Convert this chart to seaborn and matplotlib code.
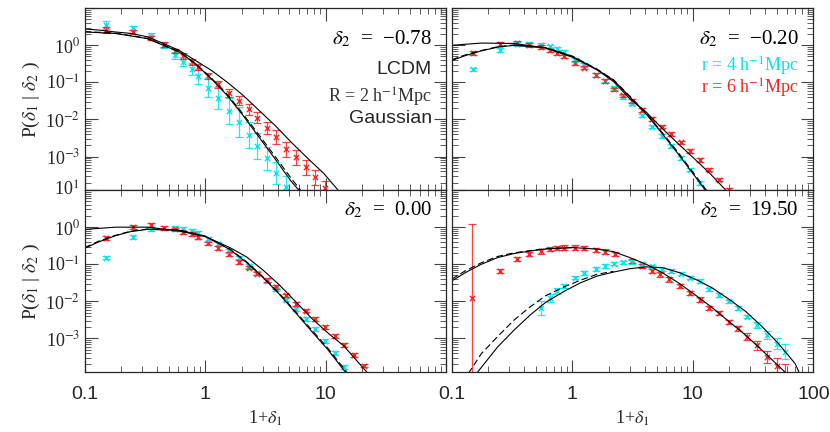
import numpy as np
import pandas as pd
import matplotlib
matplotlib.use("Agg")
import matplotlib.pyplot as plt
import seaborn as sns
from matplotlib.ticker import LogLocator, NullFormatter, FixedLocator

sns.set_style("ticks")
plt.rcParams['font.family'] = ['Liberation Serif', 'DejaVu Sans']
plt.rcParams['mathtext.fontset'] = 'stix'

CYAN = "#00e5ee"
RED = "#ff2020"

panel_labels = ["-0.78", "-0.20", "0.00", "19.50"]

# ---- panel 1: delta2 = -0.78 ----
p1_cx = [0.151,0.25,0.357,0.458,0.565,0.66,0.77,0.87,1.06,1.28,1.58,1.9,2.3,2.7,3.25,3.9,4.7]
p1_cy = [0.545,0.47,0.25,0,-0.27,-0.44,-0.64,-0.84,-1.14,-1.43,-1.77,-2.07,-2.41,-2.71,-3.05,-3.44,-3.82]
p1_ce = [0.1,0.05,0.08,0.08,0.1,0.12,0.15,0.2,0.25,0.3,0.35,0.4,0.35,0.35,0.3,0.3,0.3]
p1_rx = [0.151,0.25,0.357,0.458,0.565,0.66,0.77,0.87,1.06,1.28,1.58,1.9,2.3,2.7,3.25,3.9,4.7,5.7,6.8,8.2,9.9]
p1_ry = [0.41,0.36,0.2,0.02,-0.16,-0.29,-0.45,-0.59,-0.84,-1.05,-1.29,-1.5,-1.73,-1.95,-2.23,-2.47,-2.8,-3.02,-3.29,-3.56,-3.86]
p1_re = [0.07,0.05,0.05,0.06,0.06,0.07,0.07,0.08,0.08,0.09,0.1,0.12,0.14,0.15,0.17,0.18,0.2,0.2,0.2,0.2,0.2]
p1_c1x = [0.1,0.132,0.179,0.243,0.33,0.45,0.61,0.83,1.13,1.53,2.08,2.83,3.85,5.2,7.1,9.6,12.7]
p1_c1y = [0.44,0.41,0.36,0.32,0.23,0.05,-0.14,-0.41,-0.68,-1.0,-1.36,-1.77,-2.18,-2.62,-3.05,-3.45,-3.91]
p1_c2x = [0.1,0.179,0.33,0.45,0.61,0.83,1.13,1.53,2.08,2.83,3.85,5.2,6.0]
p1_c2y = [0.36,0.32,0.18,0,-0.18,-0.5,-0.91,-1.36,-1.91,-2.5,-3.09,-3.68,-3.91]
p1_c3x = [0.1,0.179,0.33,0.45,0.61,0.83,1.13,1.53,2.08,2.83,3.85,5.2,6.2]
p1_c3y = [0.37,0.33,0.19,0.01,-0.17,-0.49,-0.89,-1.33,-1.87,-2.44,-3.02,-3.6,-3.91]

# ---- panel 2: delta2 = -0.20 ----
p2_cx = [0.151,0.25,0.35,0.44,0.55,0.65,0.75,0.855,1.05,1.25,1.56,1.85,2.23,2.63,3.1,3.8,4.6,5.6,6.6,8.0,9.5,11.5]
p2_cy = [-0.65,-0.12,0.04,0.04,0,-0.03,-0.1,-0.19,-0.39,-0.53,-0.8,-0.95,-1.16,-1.39,-1.57,-1.89,-2.19,-2.44,-2.71,-3.03,-3.35,-3.71]
p2_rx = [0.151,0.25,0.35,0.44,0.55,0.65,0.75,0.855,1.05,1.25,1.56,1.85,2.23,2.63,3.1,3.8,4.6,5.6,6.6,8.0,9.5,11.5,13.7,16.4,19.8]
p2_ry = [-0.21,0.04,0.06,0,-0.05,-0.14,-0.21,-0.3,-0.48,-0.6,-0.8,-0.96,-1.19,-1.35,-1.51,-1.74,-1.98,-2.19,-2.39,-2.62,-2.85,-3.1,-3.35,-3.62,-3.89]
p2_c1x = [0.1,0.176,0.33,0.6,1,1.6,2.2,3.0,4.1,5.6,7.6,10.4,14.1,19.2]
p2_c1y = [0,0.06,0.05,-0.07,-0.32,-0.66,-0.98,-1.44,-1.8,-2.25,-2.66,-3.07,-3.48,-3.94]
p2_c2x = [0.1,0.129,0.176,0.24,0.33,0.6,1,1.6,2.2,3.0,4.1,5.6,7.6,10.4,12.9]
p2_c2y = [-0.41,-0.28,-0.15,-0.05,0,-0.07,-0.3,-0.65,-0.94,-1.39,-1.85,-2.39,-2.94,-3.53,-3.94]
p2_c3x = [0.1,0.129,0.176,0.24,0.33,0.6,1,1.6,2.2,3.0,4.1,5.6,7.6,10.4,13.2]
p2_c3y = [-0.39,-0.26,-0.14,-0.04,0.01,-0.06,-0.29,-0.64,-0.93,-1.37,-1.83,-2.36,-2.9,-3.49,-3.94]

# ---- panel 3: delta2 = 0.00 ----
p3_cx = [0.151,0.25,0.357,0.565,0.66,0.77,0.87,1.06,1.28,1.58,1.9,2.3,2.7,3.25,3.9,4.7,5.7,6.8,8.2,9.9,11.9,14.3]
p3_cy = [-0.82,-0.27,-0.06,-0.03,-0.05,-0.09,-0.15,-0.32,-0.45,-0.64,-0.82,-1.05,-1.23,-1.45,-1.68,-1.95,-2.2,-2.48,-2.75,-3.07,-3.39,-3.77]
p3_rx = [0.151,0.25,0.357,0.458,0.565,0.66,0.77,0.87,1.06,1.28,1.58,1.9,2.3,2.7,3.25,3.9,4.7,5.7,6.8,8.2,9.9,11.9,14.3,17.2,20.6]
p3_ry = [-0.29,0,0.05,-0.02,-0.06,-0.14,-0.18,-0.27,-0.44,-0.57,-0.73,-0.93,-1.09,-1.25,-1.43,-1.61,-1.84,-2.07,-2.25,-2.47,-2.7,-2.94,-3.18,-3.45,-3.73]
p3_c1x = [0.1,0.18,0.33,0.6,1,1.6,2.2,3.0,4.1,5.6,7.6,10.4,14.1,22.5]
p3_c1y = [-0.06,0,0,-0.1,-0.25,-0.55,-0.8,-1.15,-1.55,-2.0,-2.45,-2.85,-3.2,-3.95]
p3_c2x = [0.1,0.13,0.18,0.24,0.33,0.6,1,1.6,2.2,3.0,4.1,5.6,7.6,10.4,14.9]
p3_c2y = [-0.57,-0.4,-0.23,-0.12,-0.06,-0.08,-0.25,-0.6,-0.95,-1.35,-1.8,-2.3,-2.8,-3.3,-3.95]
p3_c3x = [0.1,0.13,0.18,0.24,0.33,0.6,1,1.6,2.2,3.0,4.1,5.6,7.6,10.4,15.3]
p3_c3y = [-0.55,-0.38,-0.22,-0.11,-0.05,-0.07,-0.24,-0.59,-0.93,-1.33,-1.78,-2.27,-2.76,-3.26,-3.95]

# ---- panel 4: delta2 = 19.50 ----
p4_rx = [0.148,0.25,0.35,0.44,0.55,0.65,0.75,0.855,1.05,1.25,1.56,1.85,2.27,3.1,3.8,4.6,5.3,6.4,7.8,9.5,11.5,13.7,16.5,19.8,23.9,28.3,34.2,41.6,50.3,58]
p4_ry = [-1.91,-1.18,-0.86,-0.73,-0.65,-0.59,-0.56,-0.55,-0.55,-0.56,-0.62,-0.66,-0.73,-0.91,-1.05,-1.18,-1.27,-1.41,-1.59,-1.77,-1.95,-2.18,-2.32,-2.55,-2.73,-2.95,-3.18,-3.5,-3.73,-3.95]
p4_cx = [0.55,0.65,0.74,0.855,1.05,1.25,1.56,1.85,2.23,2.63,3.1,3.8,4.6,5.6,6.6,8.0,9.5,11.5,13.7,16.5,19.8,23.9,28.3,34.2,41.6,50.3,58]
p4_cy = [-2.18,-1.91,-1.73,-1.59,-1.36,-1.23,-1.12,-1.05,-0.98,-0.95,-0.94,-1.0,-1.06,-1.14,-1.18,-1.25,-1.36,-1.45,-1.68,-1.82,-2.0,-2.18,-2.41,-2.64,-2.91,-3.14,-3.36]
p4_c1x = [0.1,0.129,0.176,0.24,0.33,0.45,0.6,1,1.6,2.2,3.0,4.1,5.6,7.6,10.4,14.1,19.2,27.4,37.5,51,60]
p4_c1y = [-1.45,-1.23,-1.0,-0.82,-0.71,-0.64,-0.59,-0.55,-0.59,-0.66,-0.82,-1.0,-1.23,-1.5,-1.82,-2.14,-2.5,-2.91,-3.32,-3.73,-3.95]
p4_c3x = [0.1,0.129,0.176,0.24,0.33,0.45,0.6,1]
p4_c3y = [-1.40,-1.18,-0.96,-0.79,-0.69,-0.63,-0.58,-0.55]
p4_c2x = [0.16,0.24,0.33,0.45,0.6,0.855,1.17,1.6,2.2,3.0,4.1,5.6,7.8,10.6,14.5,19.9,27.4,37.5,51.4,70.6,77]
p4_c2y = [-3.95,-3.23,-2.77,-2.36,-2.03,-1.73,-1.5,-1.32,-1.21,-1.12,-1.07,-1.09,-1.23,-1.41,-1.64,-1.94,-2.27,-2.68,-3.14,-3.68,-3.95]
p4_c4x = [0.137,0.176,0.24,0.33,0.45,0.6,0.855,1.17,1.6,2.2]
p4_c4y = [-3.95,-3.41,-2.95,-2.5,-2.14,-1.85,-1.61,-1.43,-1.27,-1.19]

fig, axes = plt.subplots(2, 2, figsize=(8.30, 4.32), dpi=100, sharex=True, sharey=True)
fig.subplots_adjust(left=0.102, right=0.98, top=0.981, bottom=0.139, wspace=0.015, hspace=0)

def pts(ax, x, ly, color, err=None):
    x = np.array(x); ly = np.array(ly)
    e = np.array(err) if err is not None else np.full(len(x), 0.05)
    y = 10**ly
    ax.errorbar(x, y, yerr=[y - 10**(ly - e), 10**(ly + e) - y], fmt='none',
                ecolor=color, elinewidth=0.9, capsize=3, capthick=0.9, alpha=0.85)
    sns.scatterplot(x=x, y=y, ax=ax, marker='x', color=color, s=14, linewidth=1.0, legend=False)

def curve(ax, x, ly, ls='-'):
    d = pd.DataFrame({'x': x, 'y': 10**np.array(ly)})
    sns.lineplot(data=d, x='x', y='y', ax=ax, color='black', lw=0.8, ls=ls, sort=False, estimator=None)

a1, a2, a3, a4 = axes[0,0], axes[0,1], axes[1,0], axes[1,1]
pts(a1, p1_cx, p1_cy, CYAN, p1_ce); pts(a1, p1_rx, p1_ry, RED, p1_re)
curve(a1, p1_c1x, p1_c1y); curve(a1, p1_c2x, p1_c2y); curve(a1, p1_c3x, p1_c3y, (0, (6, 3)))
pts(a2, p2_cx, p2_cy, CYAN); pts(a2, p2_rx, p2_ry, RED)
curve(a2, p2_c1x, p2_c1y); curve(a2, p2_c2x, p2_c2y); curve(a2, p2_c3x, p2_c3y, (0, (6, 3)))
pts(a3, p3_cx, p3_cy, CYAN); pts(a3, p3_rx, p3_ry, RED)
curve(a3, p3_c1x, p3_c1y); curve(a3, p3_c2x, p3_c2y); curve(a3, p3_c3x, p3_c3y, (0, (6, 3)))
p4_re = [2.0] + [0.06]*24 + [0.1,0.12,0.15,0.2,0.25]
p4_ce = [0.2,0.1,0.08] + [0.05]*20 + [0.08,0.1,0.15,0.2]
pts(a4, p4_rx, p4_ry, RED, p4_re); pts(a4, p4_cx, p4_cy, CYAN, p4_ce)
curve(a4, p4_c1x, p4_c1y); curve(a4, p4_c3x, p4_c3y, (0, (6, 3)))
curve(a4, p4_c2x, p4_c2y); curve(a4, p4_c4x, p4_c4y, (0, (6, 3)))

for ax, lab in zip([a1,a2,a3,a4], panel_labels):
    ax.set_xscale('log'); ax.set_yscale('log')
    ax.set_xlim(0.1, 100); ax.set_ylim(1.25e-4, 10)
    ax.set_xlabel(''); ax.set_ylabel('')
    ax.tick_params(which='both', direction='in', top=True, right=True, color='#444444')
    ax.tick_params(which='major', length=9, width=0.8)
    ax.tick_params(which='minor', length=4, width=0.6)
    ax.yaxis.set_major_locator(FixedLocator([1e1, 1, 1e-1, 1e-2, 1e-3]))
    ax.yaxis.set_minor_locator(LogLocator(base=10, subs=np.arange(2, 10), numticks=20))
    ax.xaxis.set_minor_locator(LogLocator(base=10, subs=np.arange(2, 10), numticks=20))
    ax.xaxis.set_minor_formatter(NullFormatter())
    ax.yaxis.set_minor_formatter(NullFormatter())
    for s in ax.spines.values():
        s.set_linewidth(0.9)
    sign = '\u2212' if lab.startswith('-') else ''
    ax.text(0.96, 0.80 if ax in (a1, a2) else 0.86, r'$\delta_2$  =  ' + sign + lab.lstrip('-'),
            transform=ax.transAxes, ha='right', fontsize=15, color='black')

a1.set_yticks([1e1, 1, 1e-1, 1e-2, 1e-3])
a1.set_yticklabels([r'10$^{1}$', r'10$^{0}$', r'10$^{-1}$', r'10$^{-2}$', r'10$^{-3}$'], fontsize=13)
a3.set_yticklabels(['', r'10$^{0}$', r'10$^{-1}$', r'10$^{-2}$', r'10$^{-3}$'], fontsize=13)
a1.text(-0.015, 0.0, r'10$^{1}$', transform=a1.transAxes, ha='right', va='center', fontsize=13)
for ax in (a1, a3):
    ax.set_ylabel(r'P($\delta_1$ | $\delta_2$ )', fontsize=14, labelpad=2)
for ax in (a3, a4):
    ax.set_xlabel(r'1+$\delta_1$', fontsize=13)
    ax.set_xticks([0.1, 1, 10, 100])
    ax.set_xticklabels(['0.1', '1', '10', '100'], fontsize=14, family='Liberation Sans')
    ax.tick_params(axis='x', which='major', pad=10)
a3.get_xticklabels()[-1].set_visible(False)

a1.text(0.96, 0.64, 'LCDM', transform=a1.transAxes, ha='right', fontsize=14, family='Liberation Sans')
a1.text(0.96, 0.48, r'R = 2 h$^{-1}$Mpc', transform=a1.transAxes, ha='right', fontsize=13, color='#333333')
a1.text(0.96, 0.37, 'Gaussian', transform=a1.transAxes, ha='right', fontsize=14, family='Liberation Sans')
a2.text(0.96, 0.65, r'r = 4 h$^{-1}$Mpc', transform=a2.transAxes, ha='right', fontsize=13, color=CYAN)
a2.text(0.96, 0.53, r'r = 6 h$^{-1}$Mpc', transform=a2.transAxes, ha='right', fontsize=13, color=RED)

fig.savefig('out.png', dpi=100)
